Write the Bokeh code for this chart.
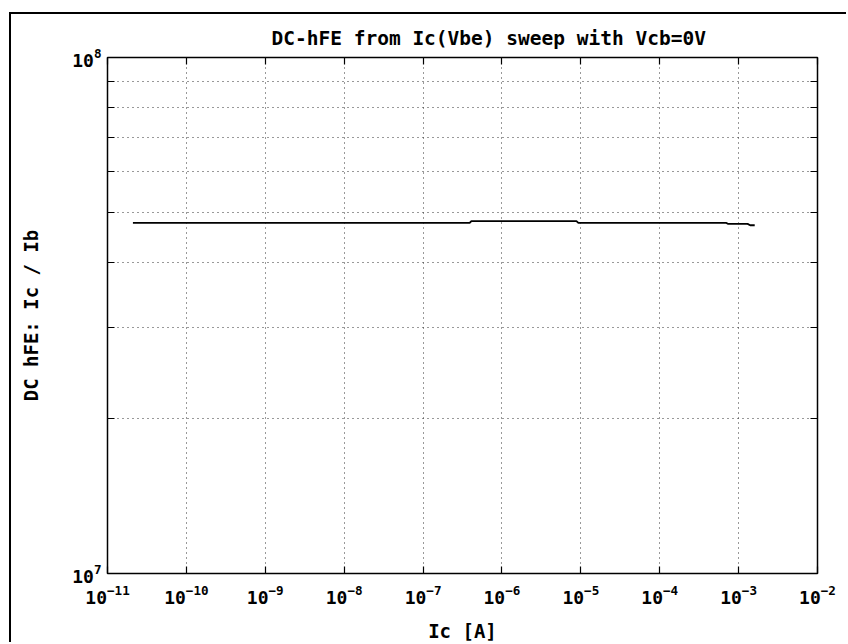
from bokeh.plotting import figure
from bokeh.models import FixedTicker, LogAxis, ColumnDataSource, Range1d
from bokeh.embed import file_html
from bokeh.resources import INLINE

# Data
ic = [2.1e-11, 1e-10, 1e-9, 1e-8, 1e-7, 3.9e-7, 4.1e-7, 1e-6, 8.8e-6, 9.3e-6,
      1e-4, 7.0e-4, 7.3e-4, 1.3e-3, 1.4e-3, 1.6e-3]
hfe = [4.78e7, 4.78e7, 4.78e7, 4.78e7, 4.78e7, 4.78e7, 4.82e7, 4.82e7, 4.82e7, 4.78e7,
       4.78e7, 4.78e7, 4.76e7, 4.76e7, 4.73e7, 4.73e7]

x_ticks = [1e-11, 1e-10, 1e-9, 1e-8, 1e-7, 1e-6, 1e-5, 1e-4, 1e-3, 1e-2]
y_ticks = [1e7, 1e8]
y_minor = [2e7, 3e7, 4e7, 5e7, 6e7, 7e7, 8e7, 9e7]

title_text = "DC-hFE from Ic(Vbe) sweep with Vcb=0V"
x_label = "Ic [A]"
y_label = "DC hFE: Ic / Ib"

FONT = "DejaVu Sans Mono"

p = figure(width=837, height=630, x_axis_type="log", y_axis_type="log",
           x_range=Range1d(1e-11, 1e-2), y_range=Range1d(1e7, 1e8),
           output_backend="svg", toolbar_location=None,
           min_border_left=96, min_border_right=31, min_border_top=43, min_border_bottom=70,
           styles={"border-left": "2px solid black", "border-top": "2px solid black",
                   "margin-left": "9px", "margin-top": "12px"})

p.title.text = title_text
p.title.text_font = FONT
p.title.text_font_style = "bold"
p.title.text_font_size = "19.5px"
p.title.text_color = "black"
p.title.align = "left"
p.title.offset = 164
p.title.standoff = 15

p.outline_line_color = "black"
p.outline_line_width = 1.5
p.background_fill_color = "white"
p.border_fill_color = "white"

src = ColumnDataSource(dict(x=ic, y=hfe))
p.line("x", "y", source=src, line_color="black", line_width=1.8)

xt = FixedTicker(ticks=x_ticks, minor_ticks=[])
yt = FixedTicker(ticks=y_ticks, minor_ticks=y_minor)

for ax in p.xaxis:
    ax.ticker = xt
for ax in p.yaxis:
    ax.ticker = yt

def style_axis(ax, labels=True):
    ax.axis_line_color = None
    ax.major_tick_in = 7
    ax.major_tick_out = 0
    ax.minor_tick_in = 7
    ax.minor_tick_out = 0
    ax.major_tick_line_color = "black"
    ax.minor_tick_line_color = "black"
    ax.major_tick_line_width = 1.2
    ax.minor_tick_line_width = 1.2
    ax.major_label_text_font = FONT
    ax.major_label_text_font_style = "bold"
    ax.major_label_text_font_size = "18px"
    ax.major_label_text_color = "black"
    ax.axis_label_text_font = FONT
    ax.axis_label_text_font_style = "bold"
    ax.axis_label_text_font_size = "19px"
    ax.axis_label_text_color = "black"
    if not labels:
        ax.major_label_text_font_size = "1px"
        ax.major_label_text_alpha = 0
        ax.major_label_standoff = 0
        ax.axis_label_standoff = 0

style_axis(p.xaxis[0])
style_axis(p.yaxis[0])
p.xaxis[0].axis_label = x_label
p.yaxis[0].axis_label = y_label
p.xaxis[0].major_label_standoff = 11
p.xaxis[0].axis_label_standoff = 13
p.yaxis[0].major_label_standoff = 6
p.yaxis[0].axis_label_standoff = 27

top_ax = LogAxis(ticker=xt)
style_axis(top_ax, labels=False)
p.add_layout(top_ax, "above")
right_ax = LogAxis(ticker=yt)
style_axis(right_ax, labels=False)
p.add_layout(right_ax, "right")

p.xgrid.ticker = xt
p.xgrid.grid_line_color = "#333333"
p.xgrid.grid_line_dash = "1 4"
p.xgrid.grid_line_width = 1
p.ygrid.ticker = FixedTicker(ticks=y_minor)
p.ygrid.grid_line_color = "#333333"
p.ygrid.grid_line_dash = "1 4"
p.ygrid.grid_line_width = 1

open("out.html", "w").write(file_html(p, INLINE))
